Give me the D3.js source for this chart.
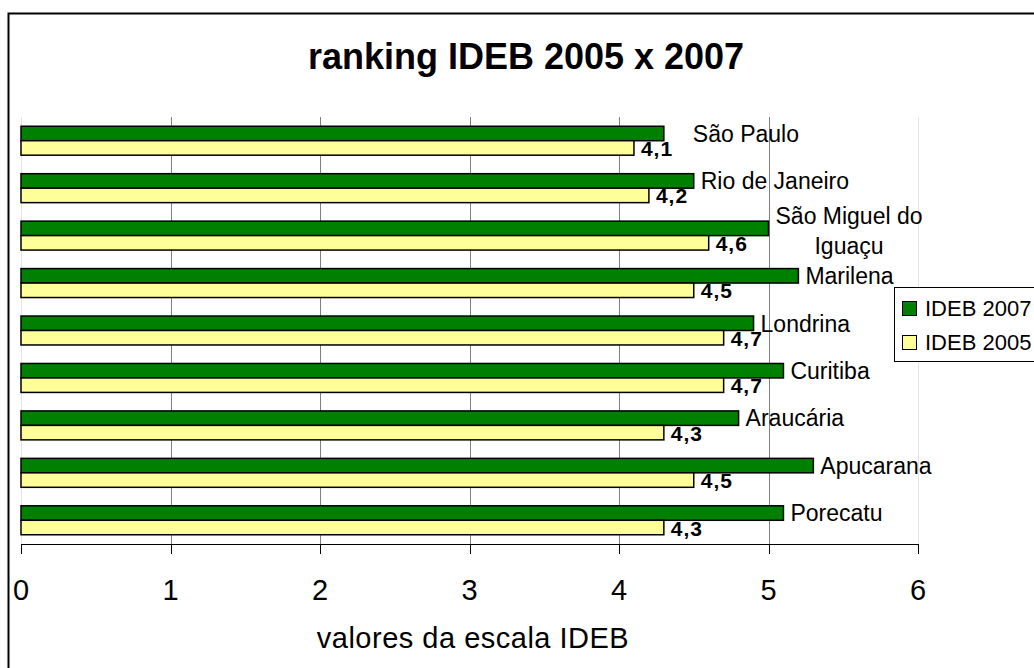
<!DOCTYPE html>
<html>
<head>
<meta charset="utf-8">
<script src="https://cdn.jsdelivr.net/npm/d3@7"></script>
<style>
  body { margin: 0; background: #fff; }
  text { font-family: "Liberation Sans", Arial, sans-serif; fill: #000; }
</style>
</head>
<body>
<div id="chart"></div>
<script>
var cities = ['São Paulo', 'Rio de Janeiro', 'São Miguel do Iguaçu', 'Marilena', 'Londrina',
    'Curitiba', 'Araucária', 'Apucarana', 'Porecatu'];
var ideb2007 = [4.3, 4.5, 5.0, 5.2, 4.9, 5.1, 4.8, 5.3, 5.1];
var ideb2005 = [4.1, 4.2, 4.6, 4.5, 4.7, 4.7, 4.3, 4.5, 4.3];
var seriesNames = ['IDEB 2007', 'IDEB 2005'];
var xTicks = [0, 1, 2, 3, 4, 5, 6];

var width = 1034, height = 668;
var colors = ['#008000', '#ffff99'];

var svg = d3.select('#chart')
    .append('svg')
    .attr('width', width)
    .attr('height', height);

// chart frame
svg.append('rect')
    .attr('x', 8.5).attr('y', 13.5)
    .attr('width', width + 20).attr('height', height + 20)
    .attr('fill', 'none').attr('stroke', '#000').attr('stroke-width', 2);

svg.append('text')
    .attr('x', 526).attr('y', 69)
    .attr('text-anchor', 'middle')
    .style('font-size', '36px').style('font-weight', 'bold')
    .text('ranking IDEB 2005 x 2007');

var x = d3.scaleLinear().domain([0, 6]).range([21, 918]);
var y = d3.scaleBand().domain(cities).range([117, 544]).paddingInner(0.39).paddingOuter(0.195);
var sub = d3.scaleBand().domain([0, 1]).range([0, y.bandwidth()]);

// gridlines
svg.append('g').selectAll('line')
    .data(xTicks)
    .enter().append('line')
    .attr('x1', d => Math.round(x(d)) + 0.5).attr('x2', d => Math.round(x(d)) + 0.5)
    .attr('y1', 117).attr('y2', 544)
    .attr('stroke', d => (d == 0 || d == 6) ? '#e4e4e4' : '#808080')
    .attr('stroke-width', 1);

var rows = cities.map((c, i) => ({ city: c, vals: [ideb2007[i], ideb2005[i]] }));

var groups = svg.append('g').selectAll('g')
    .data(rows)
    .enter().append('g')
    .attr('transform', d => `translate(0,${y(d.city)})`);

groups.selectAll('rect')
    .data(d => d.vals.map((v, j) => ({ v: v, j: j })))
    .enter().append('rect')
    .attr('x', x(0))
    .attr('y', d => sub(d.j))
    .attr('width', d => x(d.v) - x(0))
    .attr('height', sub.bandwidth())
    .attr('fill', d => colors[d.j])
    .attr('stroke', '#000').attr('stroke-width', 1.5);

// value labels (2005)
groups.append('text')
    .attr('x', d => x(d.vals[1]) + 7)
    .attr('y', sub(1) + sub.bandwidth() / 2 + 8)
    .style('font-size', '21px').style('font-weight', 'bold')
    .style('letter-spacing', '1px')
    .text(d => String(d.vals[1]).replace('.', ','));

// city labels next to 2007 bar
var nudge = { 'São Paulo': 22 };
groups.each(function (d) {
    var g = d3.select(this);
    var words = d.city.split(' ');
    var lines = [''];
    words.forEach(w => {
        var cur = lines[lines.length - 1];
        var next = cur ? cur + ' ' + w : w;
        if (next.length > 14 && cur) lines.push(w);
        else lines[lines.length - 1] = next;
    });
    var cy = sub(0) + sub.bandwidth() / 2;
    var x0 = x(d.vals[0]) + 7 + (nudge[d.city] || 0);
    var t = g.append('text')
        .style('font-size', '23px');
    if (lines.length == 1) {
        t.attr('x', x0).attr('y', cy).attr('dy', '0.36em').text(lines[0]);
    } else {
        var spans = lines.map((l, k) => t.append('tspan')
            .attr('y', cy + 2 + (k - (lines.length - 1) / 2) * 30)
            .attr('dy', '0.36em')
            .text(l));
        var maxW = d3.max(spans, s => s.node().getComputedTextLength());
        t.attr('text-anchor', 'middle');
        spans.forEach(s => s.attr('x', x0 + maxW / 2));
    }
});

// x axis
var axis = svg.append('g');
axis.append('line')
    .attr('x1', x(0)).attr('x2', x(6))
    .attr('y1', 544.5).attr('y2', 544.5)
    .attr('stroke', '#000');
axis.selectAll('.tick')
    .data(xTicks)
    .enter().append('line')
    .attr('x1', d => Math.round(x(d)) + 0.5).attr('x2', d => Math.round(x(d)) + 0.5)
    .attr('y1', 544).attr('y2', 554)
    .attr('stroke', '#000');
axis.selectAll('text')
    .data(xTicks)
    .enter().append('text')
    .attr('x', d => x(d))
    .attr('y', 600)
    .attr('text-anchor', 'middle')
    .style('font-size', '29px')
    .text(d => d);

svg.append('text')
    .attr('x', 473).attr('y', 648)
    .attr('text-anchor', 'middle')
    .style('font-size', '29px')
    .style('letter-spacing', '0.5px')
    .text('valores da escala IDEB');

// legend
var legend = svg.append('g');
legend.append('rect')
    .attr('x', 894.5).attr('y', 287.5)
    .attr('width', 160).attr('height', 74)
    .attr('fill', '#fff').attr('stroke', '#000');
var items = legend.selectAll('g')
    .data(seriesNames)
    .enter().append('g')
    .attr('transform', (d, i) => `translate(902,${301 + i * 34})`);
items.append('rect')
    .attr('x', 0.5).attr('y', 0.5)
    .attr('width', 14).attr('height', 14)
    .attr('fill', (d, i) => colors[i]).attr('stroke', '#000');
items.append('text')
    .attr('x', 23).attr('y', 15)
    .style('font-size', '22px')
    .text(d => d);
</script>
</body>
</html>
